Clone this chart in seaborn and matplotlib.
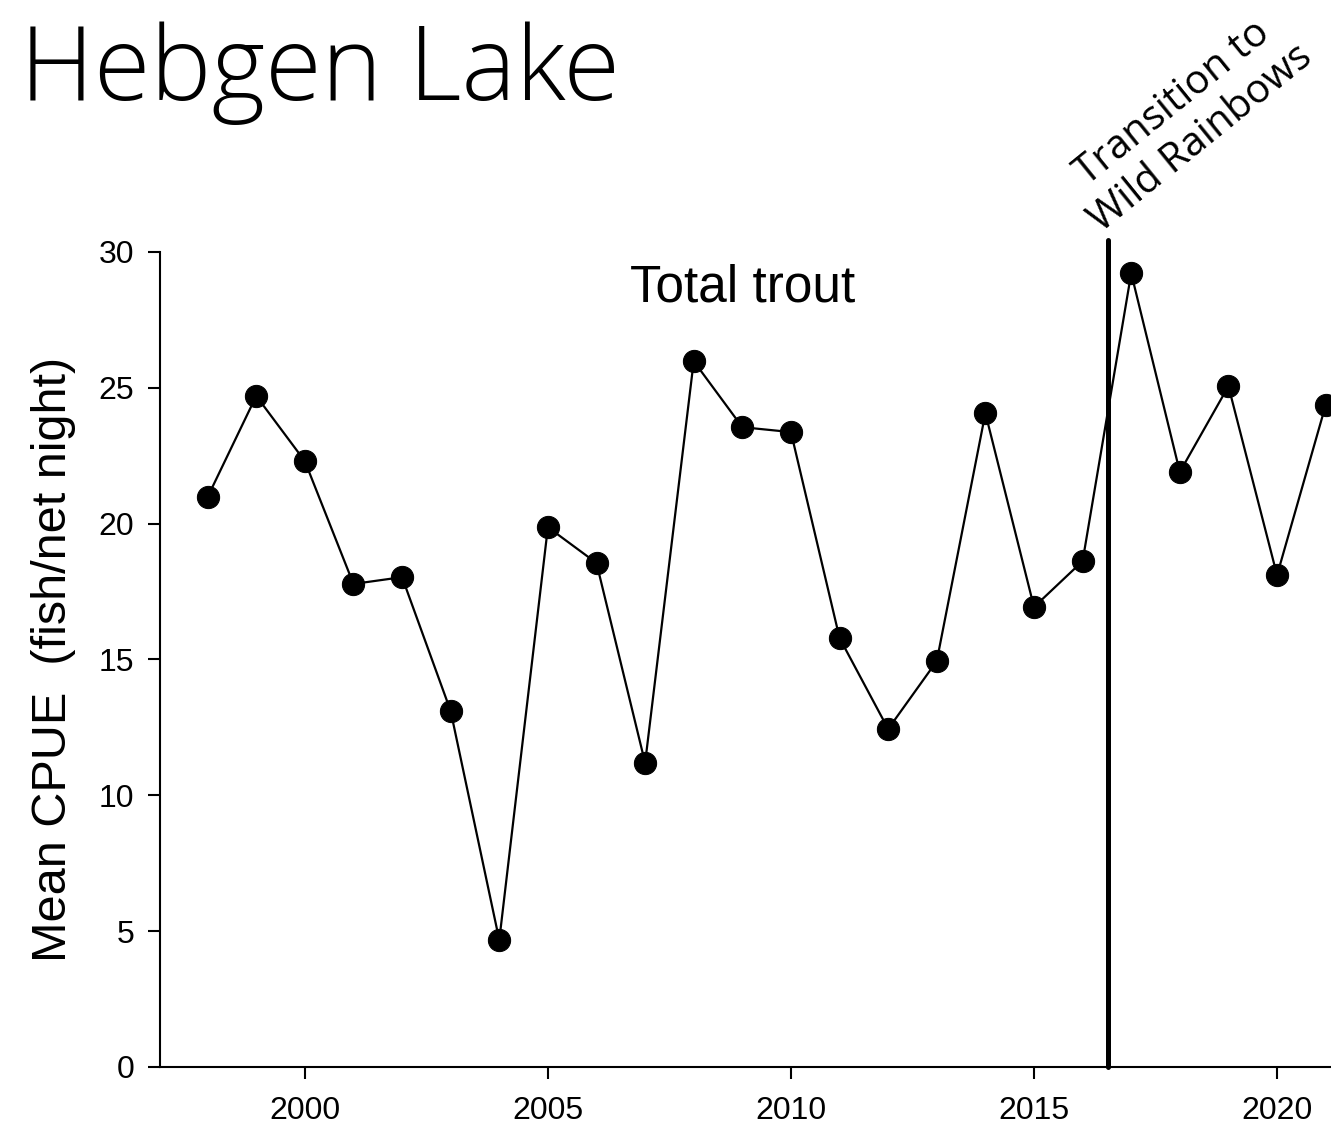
import matplotlib
matplotlib.use("Agg")
import matplotlib.pyplot as plt
import seaborn as sns
import pandas as pd

sns.set_style("ticks")
plt.rcParams["font.family"] = ["Liberation Sans", "DejaVu Sans"]
for key in ["text.color", "axes.labelcolor", "xtick.color", "ytick.color", "axes.edgecolor"]:
    plt.rcParams[key] = "black"

years = [1998, 1999, 2000, 2001, 2002, 2003, 2004, 2005, 2006, 2007, 2008, 2009,
         2010, 2011, 2012, 2013, 2014, 2015, 2016, 2017, 2018, 2019, 2020, 2021]
cpue = [20.98, 24.7, 22.3, 17.78, 18.03, 13.1, 4.67, 19.87, 18.55, 11.19, 25.98, 23.55,
        23.37, 15.79, 12.44, 14.94, 24.07, 16.93, 18.62, 29.22, 21.9, 25.06, 18.1, 24.36]
transition_year = 2016.52
xticks = [2000, 2005, 2010, 2015, 2020]
yticks = [0, 5, 10, 15, 20, 25, 30]

df = pd.DataFrame({"year": years, "cpue": cpue})

fig = plt.figure(figsize=(13.31, 11.33), dpi=100)
ax = fig.add_axes([0.1202, 0.0583, 0.8798, 0.7193])

sns.lineplot(data=df, x="year", y="cpue", ax=ax, color="black", linewidth=1.6,
             marker="o", markersize=16, markeredgecolor="black", clip_on=False)
ax.plot([transition_year, transition_year], [0, 30.45], color="black",
        linewidth=3.6, clip_on=False)

ax.set_xlim(1997.02, 2021.11)
ax.set_ylim(0, 30)
ax.set_xticks(xticks)
ax.set_yticks(yticks)
ax.tick_params(axis="both", labelsize=23, length=8.6, width=1.5, direction="out")
ax.tick_params(axis="x", pad=12)
ax.tick_params(axis="y", pad=10)
for side in ["left", "bottom"]:
    ax.spines[side].set_linewidth(1.5)
sns.despine(ax=ax)

ax.set_xlabel("")
ax.set_ylabel("Mean CPUE  (fish/net night)", fontsize=35, labelpad=16)
ax.text(2009, 28.67, "Total trout", fontsize=37, ha="center", va="center")

fig.text(0.015, 0.935, "Hebgen Lake", fontsize=74, family=["Open Sans", "DejaVu Sans"],
         fontweight="light", ha="left", va="center")
fig.text(0.892, 0.893, "Transition to\nWild Rainbows", fontsize=29, rotation=39,
         family=["Open Sans", "DejaVu Sans"], ha="center", va="center",
         multialignment="center", rotation_mode="anchor", linespacing=1.15)

fig.savefig("out.png", dpi=100)
